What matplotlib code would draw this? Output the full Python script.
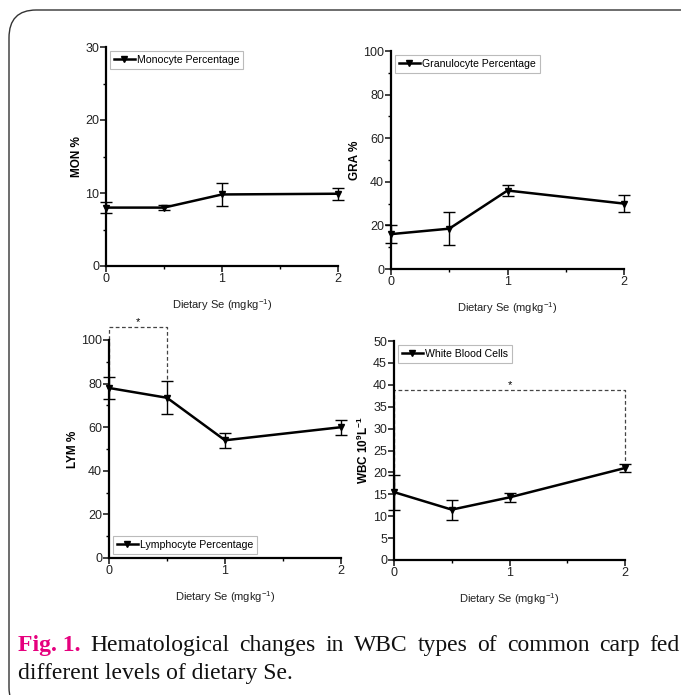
import matplotlib
matplotlib.use("Agg")
import matplotlib.pyplot as plt
from matplotlib.patches import FancyBboxPatch
from matplotlib.lines import Line2D
from matplotlib.ticker import MultipleLocator

plt.rcParams['font.family'] = ['Liberation Sans', 'DejaVu Sans']
plt.rcParams['mathtext.fontset'] = 'custom'
plt.rcParams['mathtext.rm'] = 'Liberation Sans'
plt.rcParams['mathtext.it'] = 'Liberation Sans'
plt.rcParams['mathtext.bf'] = 'Liberation Sans:bold'

dose = [0, 0.5, 1, 2]

mon = [8.0, 8.0, 9.8, 9.9]
mon_err = [0.8, 0.3, 1.6, 0.8]

gra = [16.0, 18.5, 36.0, 30.0]
gra_err = [4.0, 7.5, 2.5, 4.0]

lym = [78.0, 73.5, 54.0, 60.0]
lym_err = [5.0, 7.5, 3.5, 3.5]

wbc = [15.5, 11.5, 14.3, 21.0]
wbc_err = [4.0, 2.3, 1.0, 1.0]

panels = [
    dict(y=mon, e=mon_err, ylabel="MON %", ymax=30, major=10, minor=5,
         label="Monocyte Percentage", loc="upper left",
         pos=[106/681, 1-266/695, 232/681, 219/695], sig=None),
    dict(y=gra, e=gra_err, ylabel="GRA %", ymax=100, major=20, minor=10,
         label="Granulocyte Percentage", loc="upper left",
         pos=[391/681, 1-269/695, 233/681, 218/695], sig=None),
    dict(y=lym, e=lym_err, ylabel="LYM %", ymax=100, major=20, minor=10,
         label="Lymphocyte Percentage", loc="lower left",
         pos=[109/681, 1-558/695, 232/681, 218/695], sig=(0, 0.5, 106, 83, 81)),
    dict(y=wbc, e=wbc_err, ylabel="WBC 10$^{\\mathbf{9}}$L$^{\\mathbf{-1}}$", ymax=50, major=5, minor=None,
         label="White Blood Cells", loc="upper left",
         pos=[394/681, 1-560/695, 231/681, 219/695], sig=(0, 2, 38.8, 17, 22.5)),
]

fig = plt.figure(figsize=(6.81, 6.95), dpi=100)

# rounded frame
frame = FancyBboxPatch((9/681, -20/695), 700/681, (695-10+20)/695,
                       boxstyle="round,pad=0,rounding_size=0.04",
                       transform=fig.transFigure, fill=False,
                       edgecolor="#333333", linewidth=1.0, clip_on=False)
fig.patches.append(frame)

for p in panels:
    ax = fig.add_axes(p["pos"])
    ax.errorbar(dose, p["y"], yerr=p["e"], color="black", linewidth=1.8,
                marker="v", markersize=5, capsize=4, elinewidth=1.0,
                capthick=1.0, clip_on=False, zorder=3)
    ax.set_xlim(0, 2)
    ax.set_ylim(0, p["ymax"])
    ax.xaxis.set_major_locator(MultipleLocator(1))
    ax.xaxis.set_minor_locator(MultipleLocator(0.5))
    ax.yaxis.set_major_locator(MultipleLocator(p["major"]))
    if p["minor"]:
        ax.yaxis.set_minor_locator(MultipleLocator(p["minor"]))
    for s in ["top", "right"]:
        ax.spines[s].set_visible(False)
    for s in ["left", "bottom"]:
        ax.spines[s].set_linewidth(1.6)
    ax.tick_params(which="major", direction="out", length=4, width=1.2,
                   labelsize=9, pad=1.0, colors="#222222")
    ax.tick_params(which="minor", direction="out", length=2.5, width=1.0)
    ax.set_xlabel("Dietary Se (mgkg$^{-1}$)", fontsize=8, labelpad=9, color="#222222")
    ax.set_ylabel(p["ylabel"], fontsize=8.5, fontweight="bold", labelpad=1.5)
    handle = Line2D([], [], color="black", linewidth=1.8, marker="v", markersize=4.5)
    leg = ax.legend([handle], [p["label"]], loc=p["loc"], fontsize=7.6, frameon=True,
                    fancybox=False, handlelength=2.0, handletextpad=0.2,
                    borderpad=0.35, borderaxespad=0.4)
    leg.get_frame().set_edgecolor("#aaaaaa")
    leg.get_frame().set_linewidth(0.8)
    if p["sig"]:
        x0, x1, yt, yl, yr = p["sig"]
        ax.plot([x0, x0, x1, x1], [yl, yt, yt, yr], linestyle=(0, (3, 2)),
                color="#444444", linewidth=0.9, clip_on=False)
        ax.text((x0 + x1) / 2, yt, "*", ha="center", va="bottom", fontsize=8)

# caption
cap_font = ['Liberation Serif', 'DejaVu Serif']
fs = 17
words1 = ["Hematological", "changes", "in", "WBC", "types", "of", "common", "carp", "fed"]
renderer = fig.canvas.get_renderer()
x_left, x_right = 18, 680
y1 = 1 - 651/695
y2 = 1 - 679/695
t0 = fig.text(x_left/681, y1, "Fig. 1.", fontsize=fs, family=cap_font,
              fontweight="bold", color="#e6007e", va="baseline")
texts = [t0]
for w in words1:
    texts.append(fig.text(0, y1, w, fontsize=fs, family=cap_font, va="baseline", color="#111111"))
widths = [t.get_window_extent(renderer).width for t in texts]
gap = (x_right - x_left - sum(widths)) / (len(texts) - 1)
x = x_left
for t, w in zip(texts, widths):
    t.set_x(x/681)
    x += w + gap
fig.text(x_left/681, y2, "different levels of dietary Se.", fontsize=fs,
         family=cap_font, va="baseline", color="#111111")

fig.savefig("out.png", dpi=100)
